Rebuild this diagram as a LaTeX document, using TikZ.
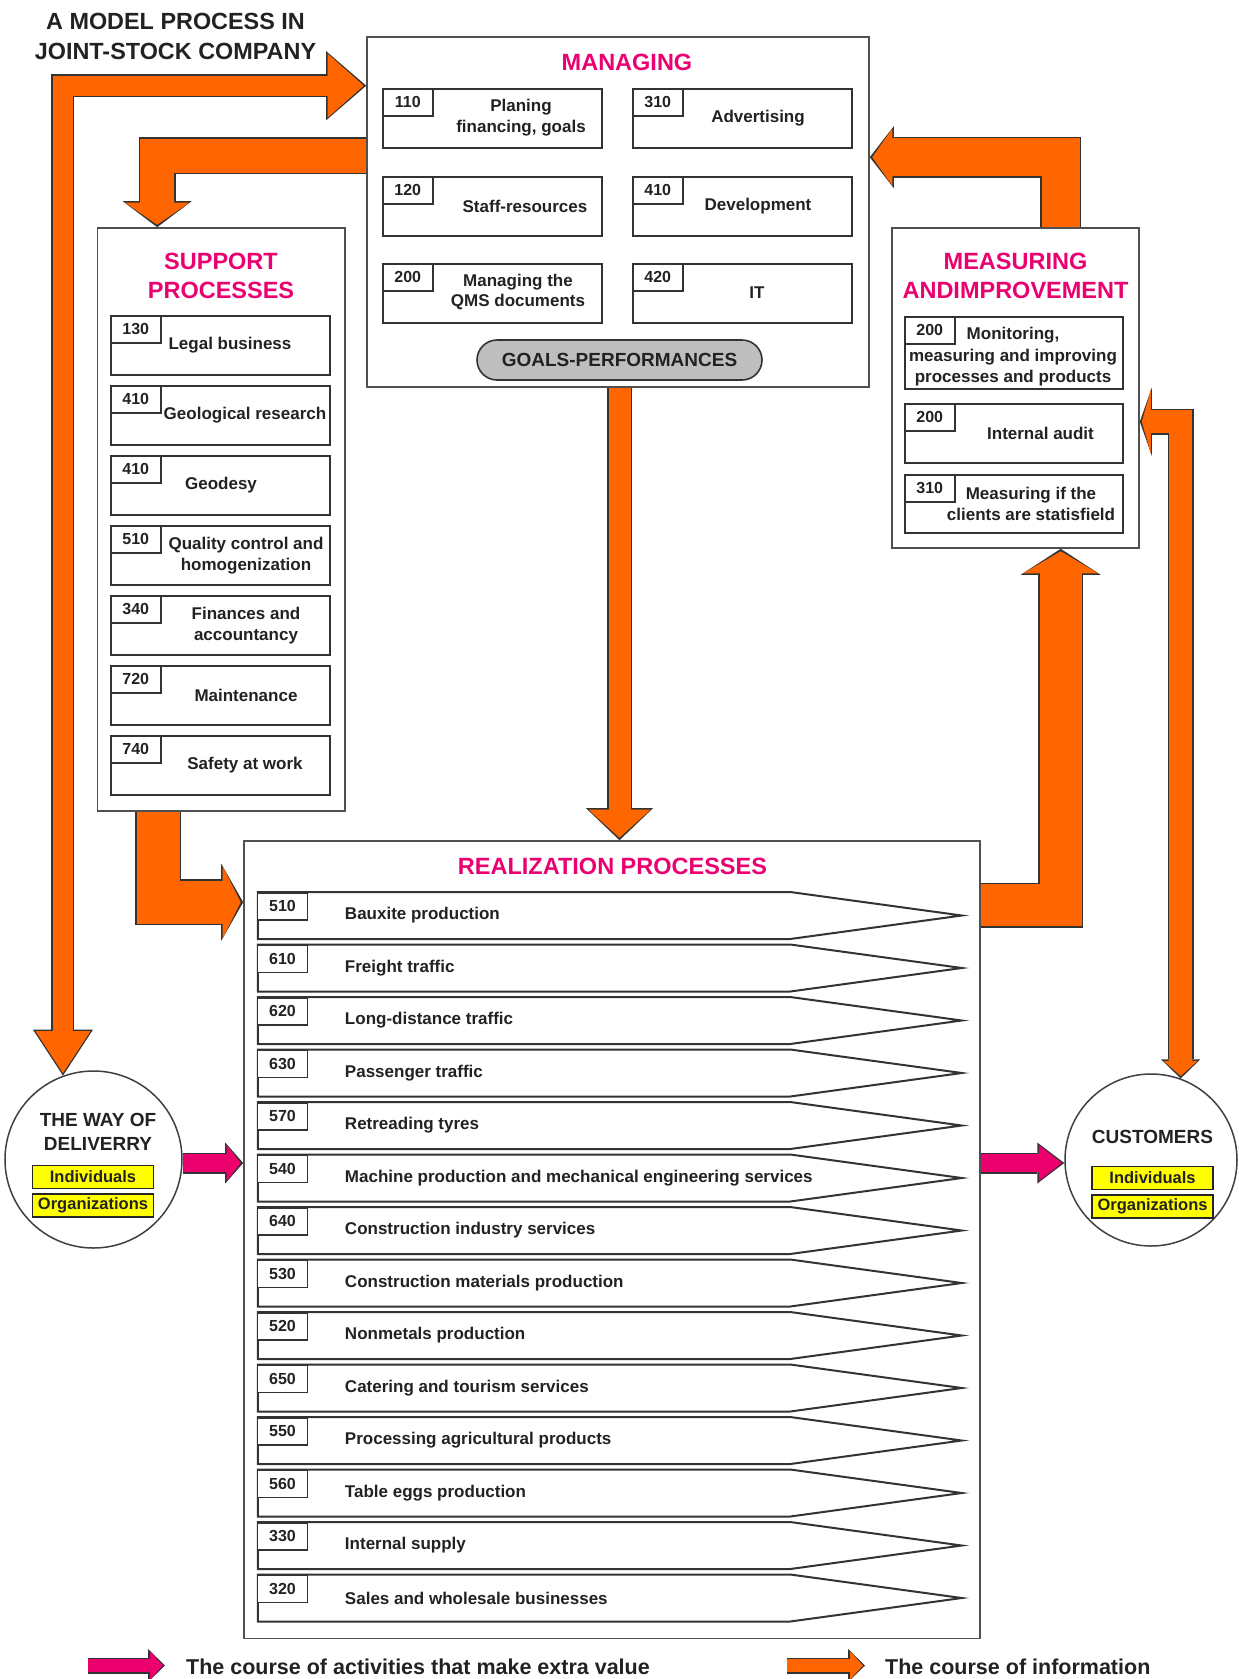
\documentclass[tikz,border=0pt]{standalone}
\usepackage{fontspec}
\setmainfont{Liberation Sans}
\definecolor{infoorange}{RGB}{255,102,0}
\definecolor{valuepink}{RGB}{236,0,110}
\definecolor{titlepink}{RGB}{234,0,112}
\definecolor{textgray}{RGB}{34,34,34}
\definecolor{boxline}{RGB}{80,80,80}
\definecolor{goalgray}{RGB}{190,190,190}
\definecolor{tagyellow}{RGB}{255,255,0}
\usetikzlibrary{arrows.meta, positioning, calc, shapes.symbols}

\begin{document}
\begin{tikzpicture}[x=1pt, y=-1pt,
  groupbox/.style={draw=boxline, line width=1.6pt, fill=white, inner sep=0pt},
  grouptitle/.style={text=titlepink, font=\fontsize{23.5}{29}\selectfont\bfseries, align=center, inner sep=0pt},
  itembox/.style={draw=black!80, line width=2pt, fill=white, inner sep=0pt, minimum width=219pt, minimum height=59pt},
  numtab/.style={draw=black!80, line width=1.5pt, fill=white, inner sep=0pt, anchor=north west, minimum width=50pt, minimum height=27pt, text=textgray, font=\fontsize{16}{18}\selectfont\bfseries},
  itemtext/.style={text=textgray, font=\fontsize{17}{20.5}\selectfont\bfseries, align=center, inner sep=0pt},
  realrow/.style={signal, signal to=east, signal pointer angle=15.6, draw=black!80, line width=2pt, fill=white, inner sep=0pt, minimum width=704pt, minimum height=47pt},
  rowtext/.style={text=textgray, font=\fontsize{17}{20.5}\selectfont\bfseries, anchor=west, xshift=88pt, inner sep=0pt},
  placecircle/.style={circle, draw=black!75, line width=1.5pt, fill=white, inner sep=0pt, minimum size=#1},
  circletext/.style={text=textgray, font=\fontsize{19}{24}\selectfont\bfseries, align=center, inner sep=0pt},
  tagbox/.style={draw=black!85, line width=1.5pt, fill=tagyellow, inner sep=0pt, minimum width=121pt, minimum height=23pt, text=textgray, font=\fontsize{16.5}{18}\selectfont\bfseries},
  goalsbox/.style={rectangle, rounded corners=20pt, draw=black!80, line width=1.6pt, fill=goalgray, inner sep=0pt, minimum width=285pt, minimum height=40pt, text=textgray, font=\fontsize{19}{22}\selectfont\bfseries},
  infoback/.style={draw=black!80},
  infofront/.style={draw=infoorange},
  valueback/.style={draw=black!80},
  valuefront/.style={draw=valuepink},
  legendtext/.style={text=textgray, font=\fontsize{21.5}{24}\selectfont\bfseries, anchor=west, inner sep=0pt}]
  \useasboundingbox (0,0) rectangle (1239,1679);

  % Title
  \node[text=textgray, font=\fontsize{23.4}{30}\selectfont\bfseries, align=center, inner sep=0pt] (title) at (175.5,36) {A MODEL PROCESS IN\\JOINT-STOCK COMPANY};

  % Managing
  \node[groupbox, minimum width=502pt, minimum height=350pt] (managing) at (618,212) {};
  \node[grouptitle] at (627,62) {MANAGING};
  \node[itembox, label={[numtab]north west:110}] (plan) at (492.5,118.5) {};
  \node[itembox, label={[numtab]north west:120}] (staff) at (492.5,206.5) {};
  \node[itembox, label={[numtab]north west:200}] (qms) at (492.5,293.5) {};
  \node[itembox, label={[numtab]north west:310}] (advert) at (742.5,118.5) {};
  \node[itembox, label={[numtab]north west:410}] (develop) at (742.5,206.5) {};
  \node[itembox, label={[numtab]north west:420}] (it) at (742.5,293.5) {};
  \node[itemtext] at (521,117.5) {Planing\\financing, goals};
  \node[itemtext] at (525,206.5) {Staff-resources};
  \node[itemtext] at (518,292) {Managing the\\QMS documents};
  \node[itemtext] at (758,118.5) {Advertising};
  \node[itemtext] at (758,206.5) {Development};
  \node[itemtext] at (757,293) {IT};
  \node[goalsbox] (goals) at (619.5,360) {GOALS-PERFORMANCES};

  % Support processes
  \node[groupbox, minimum width=247.5pt, minimum height=583pt] (support) at (221.25,519.5) {};
  \node[grouptitle] at (221,275.5) {SUPPORT\\PROCESSES};
  \node[itembox, label={[numtab]north west:130}] (legal) at (220.5,345.5) {};
  \node[itembox, label={[numtab]north west:410}] (geology) at (220.5,415.5) {};
  \node[itembox, label={[numtab]north west:410}] (geodesy) at (220.5,485.5) {};
  \node[itembox, label={[numtab]north west:510}] (quality) at (220.5,555.5) {};
  \node[itembox, label={[numtab]north west:340}] (finance) at (220.5,625.5) {};
  \node[itembox, label={[numtab]north west:720}] (maint) at (220.5,695.5) {};
  \node[itembox, label={[numtab]north west:740}] (safety) at (220.5,765.5) {};
  \node[itemtext] at (230,345.5) {Legal business};
  \node[itemtext] at (245,415.5) {Geological research};
  \node[itemtext] at (221,485.5) {Geodesy};
  \node[itemtext] at (246,555.5) {Quality control and\\homogenization};
  \node[itemtext] at (246,625.5) {Finances and\\accountancy};
  \node[itemtext] at (246,695.5) {Maintenance};
  \node[itemtext] at (245,765.5) {Safety at work};

  % Measuring and improvement
  \node[groupbox, minimum width=247pt, minimum height=320pt] (measuring) at (1015.5,388) {};
  \node[grouptitle] at (1015.5,276) {MEASURING\\ANDIMPROVEMENT};
  \node[itembox, minimum width=218pt, minimum height=72pt, label={[numtab]north west:200}] (monitor) at (1014,353) {};
  \node[itembox, minimum width=218pt, label={[numtab]north west:200}] (audit) at (1014,433.5) {};
  \node[itembox, minimum width=218pt, minimum height=58pt, label={[numtab]north west:310}] (clients) at (1014,504) {};
  \node[itemtext, font=\fontsize{17}{21.5}\selectfont\bfseries] at (1013,357) {Monitoring,\\measuring and improving\\processes and products};
  \node[itemtext] at (1040.5,433) {Internal audit};
  \node[itemtext] at (1031,504) {Measuring if the\\clients are statisfield};

  % Realization processes
  \node[groupbox, minimum width=736pt, minimum height=797.5pt] (realization) at (612,1239.75) {};
  \node[grouptitle] at (612.5,866) {REALIZATION PROCESSES};
  \node[realrow, label={[numtab, yshift=23.5pt]west:510}, label={[rowtext]west:Bauxite production}] (bauxite) at (524,915.5) {};
  \node[realrow, label={[numtab, yshift=23.5pt]west:610}, label={[rowtext]west:Freight traffic}] (freight) at (524,968) {};
  \node[realrow, label={[numtab, yshift=23.5pt]west:620}, label={[rowtext]west:Long-distance traffic}] (longdist) at (524,1020.5) {};
  \node[realrow, label={[numtab, yshift=23.5pt]west:630}, label={[rowtext]west:Passenger traffic}] (passenger) at (524,1073) {};
  \node[realrow, label={[numtab, yshift=23.5pt]west:570}, label={[rowtext]west:Retreading tyres}] (tyres) at (524,1125.5) {};
  \node[realrow, label={[numtab, yshift=23.5pt]west:540}, label={[rowtext]west:Machine production and mechanical engineering services}] (machine) at (524,1178) {};
  \node[realrow, label={[numtab, yshift=23.5pt]west:640}, label={[rowtext]west:Construction industry services}] (constind) at (524,1230.5) {};
  \node[realrow, label={[numtab, yshift=23.5pt]west:530}, label={[rowtext]west:Construction materials production}] (constmat) at (524,1283) {};
  \node[realrow, label={[numtab, yshift=23.5pt]west:520}, label={[rowtext]west:Nonmetals production}] (nonmetal) at (524,1335.5) {};
  \node[realrow, label={[numtab, yshift=23.5pt]west:650}, label={[rowtext]west:Catering and tourism services}] (catering) at (524,1388) {};
  \node[realrow, label={[numtab, yshift=23.5pt]west:550}, label={[rowtext]west:Processing agricultural products}] (agro) at (524,1440.5) {};
  \node[realrow, label={[numtab, yshift=23.5pt]west:560}, label={[rowtext]west:Table eggs production}] (eggs) at (524,1493) {};
  \node[realrow, label={[numtab, yshift=23.5pt]west:330}, label={[rowtext]west:Internal supply}] (supply) at (524,1545.5) {};
  \node[realrow, label={[numtab, yshift=23.5pt]west:320}, label={[rowtext]west:Sales and wholesale businesses}] (sales) at (524,1598) {};

  % Way of delivery and customers
  \node[placecircle=177pt] (way) at (93.5,1159.5) {};
  \node[circletext] at (98,1132) {THE WAY OF\\DELIVERRY};
  \node[tagbox] (wayind) at (93,1177) {Individuals};
  \node[tagbox, below=4pt of wayind] (wayorg) {Organizations};
  \node[placecircle=172pt] (customers) at (1151,1160) {};
  \node[circletext] at (1152.5,1137) {CUSTOMERS};
  \node[tagbox] (custind) at (1152.5,1178) {Individuals};
  \node[tagbox, below=4pt of custind] (custorg) {Organizations};

  % Course of information (orange)
  \draw[infoback, line width=23pt, {Triangle[length=46pt, width=60pt, line width=0pt]}-{Triangle[length=40pt, width=69pt, line width=0pt]}] (way.110) |- ($(managing.north west)+(0,49.5)$);
  \draw[infofront, line width=20pt, shorten <=2.5pt, shorten >=2.5pt, {Triangle[length=42pt, width=55pt, line width=0pt]}-{Triangle[length=36pt, width=64pt, line width=0pt]}] (way.110) |- ($(managing.north west)+(0,49.5)$);
  \draw[infoback, line width=37pt, -{Triangle[length=26pt, width=69pt, line width=0pt]}] ($(managing.north west)+(0,119.5)$) -| ($(support.north west)+(60.5,0)$);
  \draw[infofront, line width=34pt, shorten >=2.5pt, -{Triangle[length=22pt, width=64pt, line width=0pt]}] ($(managing.north west)+(0,119.5)$) -| ($(support.north west)+(60.5,0)$);
  \draw[infoback, line width=41pt, -{Triangle[length=24pt, width=62pt, line width=0pt]}] ($(measuring.north west)+(169.5,0)$) |- ($(managing.north east)+(0,121)$);
  \draw[infofront, line width=38pt, shorten >=2.5pt, -{Triangle[length=20pt, width=57pt, line width=0pt]}] ($(measuring.north west)+(169.5,0)$) |- ($(managing.north east)+(0,121)$);
  \draw[infoback, line width=25pt, -{Triangle[length=32pt, width=67pt, line width=0pt]}] (goals |- managing.south) -- (goals |- realization.north);
  \draw[infofront, line width=22pt, shorten >=2.5pt, -{Triangle[length=28pt, width=62pt, line width=0pt]}] (goals |- managing.south) -- (goals |- realization.north);
  \draw[infoback, line width=46pt, -{Triangle[length=22pt, width=77pt, line width=0pt]}] ($(support.south west)+(61.5,0)$) |- ($(realization.north west)+(0,62)$);
  \draw[infofront, line width=43pt, shorten >=2.5pt, -{Triangle[length=18pt, width=72pt, line width=0pt]}] ($(support.south west)+(61.5,0)$) |- ($(realization.north west)+(0,62)$);
  \draw[infoback, line width=45pt, -{Triangle[length=26pt, width=80pt, line width=0pt]}] ($(realization.north east)+(0,65)$) -| ($(measuring.south west)+(169.5,0)$);
  \draw[infofront, line width=42pt, shorten >=2.5pt, -{Triangle[length=22pt, width=75pt, line width=0pt]}] ($(realization.north east)+(0,65)$) -| ($(measuring.south west)+(169.5,0)$);
  \draw[infoback, line width=26pt, {Triangle[length=19pt, width=39pt, line width=0pt]}-{Triangle[length=12pt, width=68pt, line width=0pt]}] (customers.70) |- ($(measuring.north east)+(0,194.5)$);
  \draw[infofront, line width=23pt, shorten <=2.5pt, shorten >=2pt, {Triangle[length=15pt, width=34pt, line width=0pt]}-{Triangle[length=9pt, width=63pt, line width=0pt]}] (customers.70) |- ($(measuring.north east)+(0,194.5)$);

  % Course of activities that make extra value (pink)
  \draw[valueback, line width=21pt, -{Triangle[length=18pt, width=41pt, line width=0pt]}] ($(way.east)+(0,3.5)$) -- ($(way.east -| realization.west)+(0,3.5)$);
  \draw[valuefront, line width=18pt, shorten >=2.5pt, -{Triangle[length=14pt, width=36pt, line width=0pt]}] ($(way.east)+(0,3.5)$) -- ($(way.east -| realization.west)+(0,3.5)$);
  \draw[valueback, line width=21pt, -{Triangle[length=27pt, width=41pt, line width=0pt]}] ($(customers.west -| realization.east)+(0,3)$) -- ($(customers.west)+(0,3)$);
  \draw[valuefront, line width=18pt, shorten >=2.5pt, -{Triangle[length=23pt, width=36pt, line width=0pt]}] ($(customers.west -| realization.east)+(0,3)$) -- ($(customers.west)+(0,3)$);

  % Legend
  \coordinate (legvalue) at (88,1665.5);
  \node[legendtext] (legvaluetext) at (186,1667) {The course of activities that make extra value};
  \draw[valueback, line width=16pt, shorten >=21pt, -{Triangle[length=17pt, width=33pt, line width=0pt]}] (legvalue) -- (legvalue -| legvaluetext.west);
  \draw[valuefront, line width=13pt, shorten >=23pt, -{Triangle[length=13pt, width=28pt, line width=0pt]}] (legvalue) -- (legvalue -| legvaluetext.west);
  \coordinate (leginfo) at (787,1665.5);
  \node[legendtext] (leginfotext) at (885,1667) {The course of information};
  \draw[infoback, line width=16pt, shorten >=20pt, -{Triangle[length=17pt, width=33pt, line width=0pt]}] (leginfo) -- (leginfo -| leginfotext.west);
  \draw[infofront, line width=13pt, shorten >=22pt, -{Triangle[length=13pt, width=28pt, line width=0pt]}] (leginfo) -- (leginfo -| leginfotext.west);
\end{tikzpicture}
\end{document}
